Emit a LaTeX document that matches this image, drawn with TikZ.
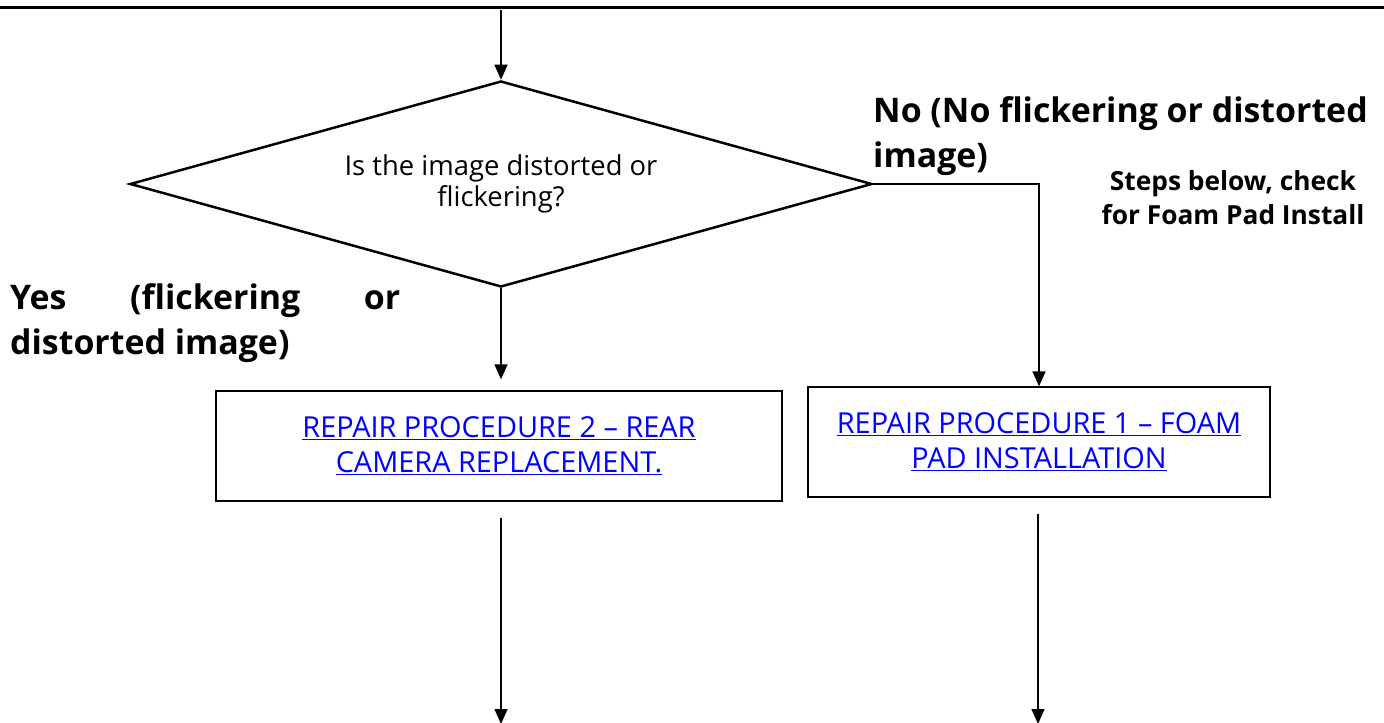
\documentclass[tikz,border=0pt]{standalone}
\usepackage{fontspec}
\setmainfont{Open Sans}
\usetikzlibrary{shapes.geometric,arrows.meta}
\definecolor{linkblue}{RGB}{0,0,255}
\tikzset{
  arr/.style={line width=1.5bp,-{Triangle[length=15bp,width=13bp]}},
  decision/.style={diamond,draw,line width=2.5bp,inner sep=0pt,aspect=3.6,minimum width=742bp,minimum height=206bp,align=center,font=\fontsize{27.5}{31}\selectfont},
  proc/.style={rectangle,draw,line width=1.3bp,minimum height=110bp,align=center,text=linkblue,font=\fontsize{29}{35}\selectfont},
  lbl/.style={inner sep=0pt,font=\bfseries\fontsize{34}{46}\selectfont},
  note/.style={inner sep=0pt,align=center,font=\bfseries\fontsize{26.4}{34}\selectfont}
}
\newcommand{\lnk}[1]{\underline{#1}}
\begin{document}
\begin{tikzpicture}[x=1bp,y=-1bp]
\useasboundingbox (0,0) rectangle (1384,722);
\draw[line width=3bp] (0,8) -- (1384,8);
\coordinate (top) at (501,10);
\node[decision] (d) at (501,184) {\raisebox{-2bp}{Is the image distorted or}\\\raisebox{-2bp}{flickering?}};
\node[proc,minimum width=566bp] (b2) at (499,446) {\lnk{REPAIR PROCEDURE 2 – REAR}\\\lnk{CAMERA REPLACEMENT.}};
\node[proc,minimum width=462bp] (b1) at (1039,442) {\lnk{REPAIR PROCEDURE 1 – FOAM}\\\lnk{PAD INSTALLATION}};
\coordinate (e2) at (501,724);
\coordinate (e1) at (1038,724);
\node[lbl,anchor=north west,align=left] (no) at (873,96) {No (No flickering or distorted\\image)};
\node[lbl,anchor=north west,align=left] (yes) at (10,283) {\makebox[390bp][s]{Yes (flickering or}\\distorted image)};
\node[note] (steps) at (1233,198) {Steps below, check\\for Foam Pad Install};
\draw[arr] (top) -- (d.north);
\draw[arr,shorten >=11bp] (d.south) -- (d.south |- b2.north);
\draw[arr] (d.east) -| (b1.north);
\draw[arr,shorten <=16bp] (b2.south -| e2) -- (e2);
\draw[arr,shorten <=16bp] (b1.south -| e1) -- (e1);
\end{tikzpicture}
\end{document}
